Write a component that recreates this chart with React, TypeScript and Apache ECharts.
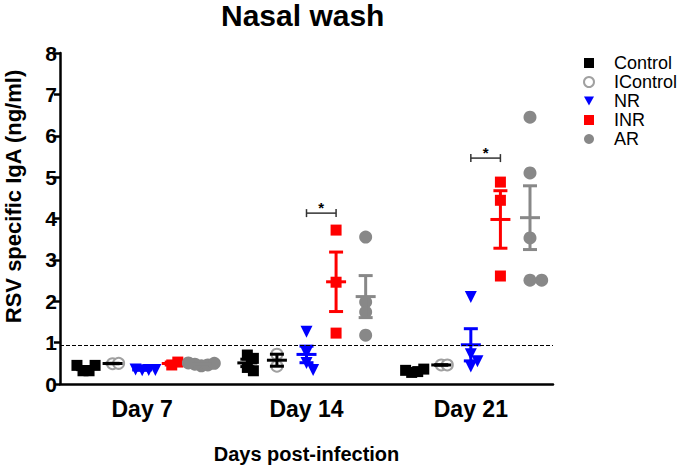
import React, { useEffect, useRef } from "react";
import * as echarts from "echarts";

const days = ["Day 7", "Day 14", "Day 21"];
const groups = ["Control", "IControl", "NR", "INR", "AR"];

// values per group: [day7, day14, day21]
const controlValues = [
  [0.32, 0.32, 0.45, 0.45],
  [0.7, 0.62, 0.4, 0.32],
  [0.28, 0.3, 0.33, 0.36],
];
const iControlValues = [
  [0.49, 0.5],
  [0.43, 0.72],
  [0.46, 0.46],
];
const nrValues = [
  [0.33, 0.34, 0.35, 0.34],
  [1.26, 0.75, 0.51, 0.34],
  [2.1, 0.72, 0.55, 0.42],
];
const inrValues = [
  [0.46, 0.53],
  [3.72, 2.46, 1.23],
  [4.88, 4.44, 2.61],
];
const arValues = [
  [0.44, 0.46, 0.48, 0.5, 0.51],
  [3.55, 1.98, 1.74, 1.18],
  [6.45, 5.1, 3.53, 2.51, 2.51],
];

const thresholdValue = 0.93;
// significance brackets: [dayIndex, fromGroup, toGroup, level]
const brackets = [
  [1, 2, 3, 4.13],
  [2, 2, 3, 5.46],
];
const yTicks = [0, 1, 2, 3, 4, 5, 6, 7, 8];

const allValues = [controlValues, iControlValues, nrValues, inrValues, arValues];
const colors = ["#000000", "#a0a0a0", "#0000ff", "#ff0000", "#888888"];
const barColors = ["#000000", "#000000", "#0000ff", "#ff0000", "#888888"];
const symbols = ["rect", "circle", "path://M0,0 L10,0 L5,9 Z", "rect", "circle"];
const sizes = [11, 11, 12, 11, 13];
const steps = [0.55, 0.55, 0.55, 0.55, 0.9];

const GRID = { left: 60, right: 132, top: 53, bottom: 84 };
const W = 685, H = 468;
const pxPerX = (W - GRID.left - GRID.right) / 3;
const pxPerY = (H - GRID.top - GRID.bottom) / 8;
const groupOffset = (g: number) => (g - 2) * 0.18;

function swarm(vals: number[], size: number, stepFactor: number): number[] {
  const step = size * stepFactor;
  const placed: { y: number; dx: number }[] = [];
  const out: number[] = [];
  vals.forEach((v) => {
    const cands = [0];
    for (let k = 1; k < 10; k++) cands.push(k * step, -k * step);
    let chosen = 0;
    for (const c of cands) {
      const hit = placed.some(
        (p) => Math.abs(p.y - v) * pxPerY < size * 0.6 && Math.abs(p.dx - c) < step * 0.95
      );
      if (!hit) { chosen = c; break; }
    }
    placed.push({ y: v, dx: chosen });
    out.push(chosen / pxPerX);
  });
  return out;
}

function meanSem(vals: number[]) {
  const n = vals.length;
  const m = vals.reduce((a, b) => a + b, 0) / n;
  const sd = Math.sqrt(vals.reduce((a, b) => a + (b - m) * (b - m), 0) / (n - 1));
  return [m, sd / Math.sqrt(n)];
}

export default function App() {
  const ref = useRef<HTMLDivElement>(null);
  useEffect(() => {
    if (!ref.current) return;
    const chart = echarts.init(ref.current, null, { renderer: "svg" });
    const font = "Liberation Sans, Arial, Helvetica, sans-serif";

    const scatterSeries = groups.map((name, g) => {
      const data: number[][] = [];
      allValues[g].forEach((vals, d) => {
        const offs = swarm(vals, sizes[g], g === 4 && d === 0 ? 0.5 : steps[g]);
        vals.forEach((v, i) => data.push([d + 0.5 + groupOffset(g) + offs[i], v]));
      });
      return {
        name,
        type: "scatter",
        xAxisIndex: 1,
        yAxisIndex: 0,
        symbol: symbols[g],
        symbolSize: sizes[g],
        itemStyle:
          g === 1
            ? { color: "#ffffff", borderColor: colors[g], borderWidth: 2, opacity: 1 }
            : { color: colors[g], opacity: 1 },
        data,
        z: 2,
      };
    });

    const errorSeries = groups.map((name, g) => {
      const data = allValues[g].map((vals, d) => {
        const [m, s] = meanSem(vals);
        return [d + 0.5 + groupOffset(g), m, m - s, m + s];
      });
      return {
        type: "custom",
        xAxisIndex: 1,
        yAxisIndex: 0,
        z: 3,
        silent: true,
        encode: { x: 0, y: [1, 2, 3] },
        data,
        renderItem: (params: any, api: any) => {
          const x = api.value(0);
          const c = api.coord([x, api.value(1)]);
          const lo = api.coord([x, api.value(2)]);
          const hi = api.coord([x, api.value(3)]);
          const st = { stroke: barColors[g], lineWidth: 3 };
          return {
            type: "group",
            children: [
              { type: "line", shape: { x1: c[0], y1: lo[1], x2: c[0], y2: hi[1] }, style: st },
              { type: "line", shape: { x1: c[0] - 7, y1: lo[1], x2: c[0] + 7, y2: lo[1] }, style: st },
              { type: "line", shape: { x1: c[0] - 7, y1: hi[1], x2: c[0] + 7, y2: hi[1] }, style: st },
              { type: "line", shape: { x1: c[0] - 10, y1: c[1], x2: c[0] + 10, y2: c[1] }, style: st },
            ],
          };
        },
      };
    });

    const bracketSeries = {
      type: "custom",
      xAxisIndex: 1,
      yAxisIndex: 0,
      z: 4,
      silent: true,
      encode: { x: [0, 1], y: 2 },
      data: brackets.map(([d, a, b, y]) => [d + 0.5 + groupOffset(a), d + 0.5 + groupOffset(b), y]),
      renderItem: (params: any, api: any) => {
        const p1 = api.coord([api.value(0), api.value(2)]);
        const p2 = api.coord([api.value(1), api.value(2)]);
        const st = { stroke: "#333333", lineWidth: 1.5 };
        return {
          type: "group",
          children: [
            { type: "line", shape: { x1: p1[0], y1: p1[1], x2: p2[0], y2: p2[1] }, style: st },
            { type: "line", shape: { x1: p1[0], y1: p1[1] - 4, x2: p1[0], y2: p1[1] + 4 }, style: st },
            { type: "line", shape: { x1: p2[0], y1: p2[1] - 4, x2: p2[0], y2: p2[1] + 4 }, style: st },
            {
              type: "text",
              x: (p1[0] + p2[0]) / 2,
              y: p1[1] + 2,
              style: {
                text: "*",
                fontSize: 15,
                fontWeight: "bold",
                fontFamily: font,
                fill: "#000",
                align: "center",
                verticalAlign: "bottom",
              },
            },
          ],
        };
      },
    };

    const thresholdSeries = {
      type: "line",
      xAxisIndex: 1,
      yAxisIndex: 0,
      data: [],
      silent: true,
      markLine: {
        symbol: "none",
        silent: true,
        label: { show: false },
        lineStyle: { color: "#000", type: [4, 2], width: 1 },
        data: [{ yAxis: thresholdValue }],
      },
    };

    chart.setOption({
      animation: false,
      title: {
        text: "Nasal wash",
        left: 221,
        top: 0,
        padding: 0,
        textStyle: { fontFamily: font, fontSize: 30, fontWeight: "bold", color: "#000" },
      },
      legend: {
        orient: "vertical",
        left: 583,
        top: 54,
        padding: 0,
        itemWidth: 10,
        itemHeight: 10,
        itemGap: 1,
        data: groups,
        textStyle: { fontFamily: font, fontSize: 18, color: "#000", padding: [0, 0, 0, 15] },
      },
      grid: {
        left: GRID.left,
        right: GRID.right,
        top: GRID.top,
        bottom: GRID.bottom,
        outerBoundsMode: "none",
        containLabel: false,
      },
      xAxis: [
        {
          type: "category",
          data: days,
          boundaryGap: true,
          name: "Days post-infection",
          nameLocation: "middle",
          nameGap: 60,
          nameTextStyle: { fontFamily: font, fontSize: 20, fontWeight: "bold", color: "#000" },
          axisLine: { lineStyle: { color: "#000", width: 2.5 } },
          axisTick: { alignWithLabel: true, length: 6, lineStyle: { color: "#000", width: 2.5 } },
          axisLabel: { fontFamily: font, fontSize: 23, fontWeight: "bold", color: "#000", margin: 13 },
          splitLine: { show: false },
        },
        { type: "value", min: 0, max: 3, show: false, splitLine: { show: false } },
      ],
      yAxis: {
        type: "value",
        min: yTicks[0],
        max: yTicks[yTicks.length - 1],
        interval: 1,
        name: "RSV specific IgA (ng/ml)",
        nameLocation: "middle",
        nameRotate: 90,
        nameGap: 36,
        nameTextStyle: {
          fontFamily: font,
          fontSize: 22,
          fontWeight: "bold",
          color: "#000",
          padding: [0, 0, 0, 44],
        },
        axisLine: { show: true, lineStyle: { color: "#000", width: 2.5 } },
        axisTick: { show: true, length: 6, lineStyle: { color: "#000", width: 2.5 } },
        axisLabel: { fontFamily: font, fontSize: 21, fontWeight: "bold", color: "#000", margin: 3 },
        splitLine: { show: false },
      },
      series: [thresholdSeries, ...scatterSeries, ...errorSeries, bracketSeries],
    });
    return () => chart.dispose();
  }, []);
  return (
    <div
      ref={ref}
      style={{ position: "absolute", left: 0, top: 0, width: 685, height: 468 }}
    />
  );
}
